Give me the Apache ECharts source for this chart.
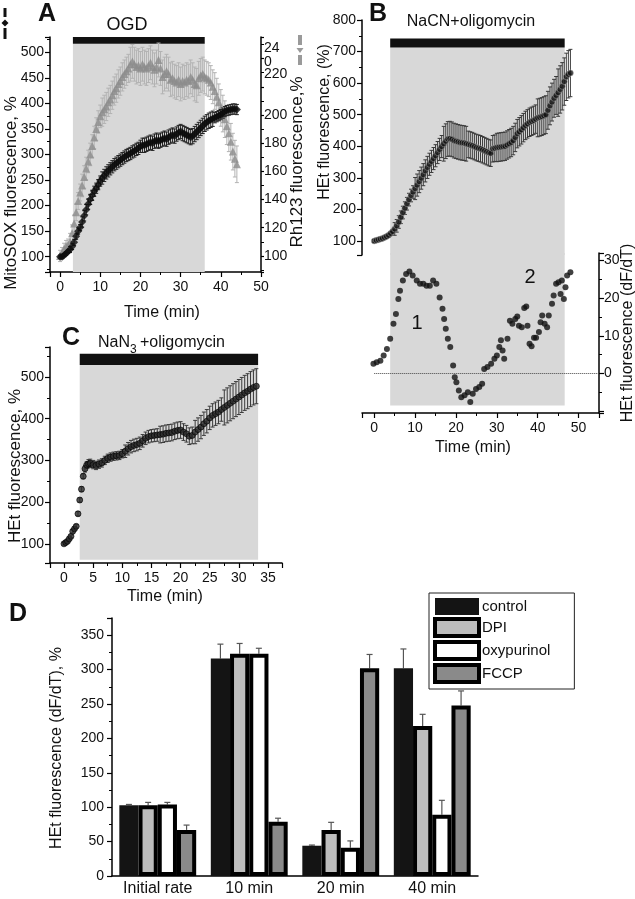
<!DOCTYPE html>
<html><head><meta charset="utf-8">
<script src="https://cdn.jsdelivr.net/npm/echarts@6/dist/echarts.min.js"></script>
<style>html,body{margin:0;padding:0;background:#fff}#c{width:635px;height:899px}</style>
</head><body><div id="c"></div>
<script>
// ---------- Panel A : OGD ----------
const tA = [0,0.5,1,1.5,2,2.5,3,3.5,4,4.5,5,5.5,6,6.5,7,7.5,8,8.5,9,9.5,10,10.5,11,11.5,12,12.5,13,13.5,14,14.5,15,15.5,16,16.5,17,17.5,18,18.5,19,19.5,20,20.5,21,21.5,22,22.5,23,23.5,24,24.5,25,25.5,26,26.5,27,27.5,28,28.5,29,29.5,30,30.5,31,31.5,32,32.5,33,33.5,34,34.5,35,35.5,36,36.5,37,37.5,38,38.5,39,39.5,40,40.5,41,41.5,42,42.5,43,43.5,44];
const mitoA = [100,100,103,106,110,114,120,128,140,150,157,168,180,192,203,212,220,228,234,241,248,254,259,264,268,272,276,280,283,286,289,292,295,298,300,302,305,307,310,312,316,318,318,320,322,324,322,326,328,326,328,330,332,330,334,336,338,336,340,343,345,342,340,338,336,334,336,340,344,348,352,356,360,363,366,368,370,372,374,376,378,381,384,386,387,388,389,389,388];
const errMitoA = [3,3,3,3,3,6,6,6,6,6,6,10,10,10,10,10,10,10,10,10,10,12,12,12,12,12,12,12,12,12,12,12,12,12,12,12,12,12,12,12,12,14,14,14,14,14,14,14,14,14,14,14,14,14,14,14,14,14,14,14,14,15,15,15,15,15,15,15,15,15,15,15,15,15,15,15,15,10,10,10,10,10,10,10,10,10,10,10,10];
const rhA = [100,102,105,107,108,110,116,123,131,139,145,150,156,162,167,172,178,184,190,195,199,202,204,206,209,211,214,217,219,222,224,227,229,231,233,236,238,236,234,235,233,236,234,233,235,237,234,232,234,239,233,227,229,231,229,225,226,224,223,225,222,224,223,225,224,227,225,222,221,226,228,229,227,226,225,223,220,217,213,209,205,201,197,192,187,181,174,169,165];
const errRhA = [4,4,4,4,4,6,6,6,6,6,6,8,8,8,8,8,8,8,8,8,8,10,10,10,10,10,10,10,10,10,10,10,10,10,10,12,12,12,12,12,12,12,12,12,12,12,12,12,12,12,12,12,12,12,12,12,12,12,12,12,12,12,12,12,12,12,12,12,12,12,12,12,12,12,12,12,12,13,13,13,13,13,13,13,13,13,13,13,13];
const treatA = [3.2, 36];

// ---------- Panel B : NaCN + oligomycin ----------
const tB = [0,0.5,1,1.5,2,2.5,3,3.5,4,4.5,5,5.5,6,6.5,7,7.5,8,8.5,9,9.5,10,10.5,11,11.5,12,12.5,13,13.5,14,14.5,15,15.5,16,16.5,17,17.5,18,18.5,19,19.5,20,20.5,21,21.5,22,22.5,23,23.5,24,24.5,25,25.5,26,26.5,27,27.5,28,28.5,29,29.5,30,30.5,31,31.5,32,32.5,33,33.5,34,34.5,35,35.5,36,36.5,37,37.5,38,38.5,39,39.5,40,40.5,41,41.5,42,42.5,43,43.5,44,44.5,45,45.5,46,46.5,47,47.5,48];
const hetB = [100,102,104,106,108,111,114,118,124,130,138,148,160,175,190,204,218,231,244,255,266,277,288,299,310,322,333,343,352,361,370,380,390,399,408,416,423,424,422,418,416,414,412,411,410,408,406,404,402,399,396,394,392,389,386,383,380,378,392,394,396,397,398,399,400,404,408,412,418,428,440,446,452,459,466,471,476,479,482,486,490,492,494,497,500,514,528,540,552,561,570,580,590,605,620,628,632];
const errB = [5,5,5,5,5,5,5,5,5,5,20,20,20,20,20,20,20,20,20,20,35,35,35,35,35,35,35,35,35,35,35,35,35,35,55,55,55,55,55,55,55,55,55,55,55,55,42,42,42,42,42,42,42,42,42,42,42,42,42,42,45,45,45,45,45,45,45,45,45,45,45,45,45,45,45,45,45,45,45,45,60,60,60,60,60,60,60,60,60,60,75,75,75,75,75,75,75];
const tBd = [-0.2,0.6,1.5,2.3,3.1,3.9,4.7,5.3,5.9,6.3,7.0,7.8,8.6,9.4,10.4,11.2,12.0,12.8,13.6,14.4,15.2,16.0,16.7,17.1,17.5,18.0,18.6,19.3,19.7,20.1,20.7,21.3,22.1,22.9,23.5,24.1,24.9,25.7,26.4,26.9,27.7,28.6,29.4,30.0,30.6,31.0,31.4,31.8,32.6,33.2,33.8,34.5,35.0,35.4,36.1,36.7,37.2,37.5,38.0,38.5,39.1,39.6,40.3,40.7,41.1,41.7,42.3,42.7,43.5,43.9,44.5,45.1,45.6,45.9,46.4,46.8,47.2,48.0];
const rateB = [2.6,3.0,3.4,4.8,6.5,9.2,13.2,15.8,19.8,22,24.7,26.4,27.1,26,24.7,23.8,23.8,23.3,23.3,24.7,23.8,20.2,17.2,14.5,11.9,9.2,7,2.1,-1,-2.3,-4.5,-6.3,-5.8,-5,-7.6,-5.4,-4.1,-3.6,-2.7,1.2,1.7,2.6,3.9,4.8,7,8.8,6.1,3.9,9.2,14,13.2,14.5,15.1,12.7,12.3,17.4,17.8,12.7,7.9,7.2,9.5,9.5,11,13.6,15.4,13.2,12.3,15.4,18.5,20.7,23.8,24.2,21.1,24.7,19.8,22.9,26,26.9];
const treatB = [3.9, 46.6];

// ---------- Panel C : NaN3 + oligomycin ----------
const tC = [0,0.3,0.6,0.9,1.2,1.5,1.8,2.1,2.4,2.7,3.0,3.3,3.6,3.9,4.2,4.5,5,5.5,6,6.5,7,7.5,8,8.5,9,9.5,10,10.5,11,11.5,12,12.5,13,13.5,14,14.5,15,15.5,16,16.5,17,17.5,18,18.5,19,19.5,20,20.5,21,21.5,22,22.5,23,23.5,24,24.5,25,25.5,26,26.5,27,27.5,28,28.5,29,29.5,30,30.5,31,31.5,32,32.5,33];
const hetC = [100,103,106,112,118,130,136,142,172,205,231,262,280,289,292,293,290,288,291,294,300,305,308,310,311,312,316,322,328,333,336,338,341,347,353,357,359,360,361,362,363,365,366,367,370,372,373,368,364,358,360,368,374,380,388,394,402,408,412,416,422,427,432,437,442,447,452,457,462,466,471,475,478];
const errC = [3,3,3,3,3,4,4,4,5,5,6,6,8,8,10,10,10,10,10,10,10,10,10,10,10,10,10,15,15,15,15,15,15,15,15,15,15,15,15,20,20,20,20,20,20,20,20,20,20,20,20,28,28,28,28,28,28,28,28,28,28,42,42,42,42,42,42,42,42,42,42,42,42];
const treatC = [2.7, 33.3];

// ---------- Panel D : bars ----------
const catD = ['Initial rate','10 min','20 min','40 min'];
const controlD = [103, 316, 44, 302];
const dpiD = [103, 323, 67, 218];
const oxyD = [104, 323, 41, 89];
const fccpD = [67, 79, 302, 248];
const errControlD = [1, 21, 1, 28];
const errDpiD = [4, 15, 11, 17];
const errOxyD = [3, 8, 10, 21];
const errFccpD = [7, 5, 20, 21];

const FONT = '"Liberation Sans", Arial, sans-serif';
const chart = echarts.init(document.getElementById('c'), null, {renderer:'canvas'});

function multipleOf(step, lo, hi){
  return function(v){
    const r = Math.abs(v / step - Math.round(v / step));
    if (r > 1e-6) return '';
    if (lo !== undefined && (v < lo - 1e-6 || v > hi + 1e-6)) return '';
    return String(Math.round(v));
  };
}
function axis(extra){
  const base = {
    type:'value',
    axisLine:{show:true,onZero:false,lineStyle:{color:'#000',width:1.5}},
    axisTick:{show:true,inside:false,length:5,lineStyle:{color:'#000',width:1.2}},
    minorTick:{show:true,splitNumber:2,length:3,lineStyle:{color:'#000',width:1}},
    splitLine:{show:false}, minorSplitLine:{show:false},
    axisLabel:{color:'#111',fontSize:14,fontFamily:FONT,margin:6}
  };
  const o = Object.assign({}, base, extra);
  if (extra.axisLabel) o.axisLabel = Object.assign({}, base.axisLabel, extra.axisLabel);
  if (extra.axisTick) o.axisTick = Object.assign({}, base.axisTick, extra.axisTick);
  return o;
}
function vErr(upOnly, cap){
  return function(params, api){
    const x = api.value(0), y = api.value(1), e = api.value(2);
    const hi = api.coord([x, y + e]);
    const lo = api.coord([x, upOnly ? y : y - e]);
    const st = {stroke: api.visual('color'), lineWidth: 1, fill: null};
    const ch = [
      {type:'line', shape:{x1:hi[0],y1:hi[1],x2:lo[0],y2:lo[1]}, style:st},
      {type:'line', shape:{x1:hi[0]-cap,y1:hi[1],x2:hi[0]+cap,y2:hi[1]}, style:st}
    ];
    if (!upOnly) ch.push({type:'line', shape:{x1:lo[0]-cap,y1:lo[1],x2:lo[0]+cap,y2:lo[1]}, style:st});
    return {type:'group', children:ch};
  };
}
function barErr(k){
  return function(params, api){
    const ci = api.value(0), v = api.value(1), e = api.value(2);
    const base = api.coord([ci, v]);
    const band = api.size([1, 0])[0];
    const bw = band * (1 - 0.16) / 4;
    const x = base[0] + (k - 1.5) * bw;
    const top = api.coord([ci, v + e])[1];
    const st = {stroke:'#555', lineWidth:1.2, fill:null};
    return {type:'group', children:[
      {type:'line', shape:{x1:x,y1:base[1],x2:x,y2:top}, style:st},
      {type:'line', shape:{x1:x-3,y1:top,x2:x+3,y2:top}, style:st}
    ]};
  };
}
const zip3 = (a,b,c) => a.map((t,i)=>[t,b[i],c[i]]);
const zip2 = (a,b) => a.map((t,i)=>[t,b[i]]);
const SHADE = '#d8d8d8', BAR = '#111';

function txt(text, x, y, size, opt){
  opt = opt || {};
  return {type:'text', x:x, y:y, rotation: opt.rot ? Math.PI/2 : 0, z:100,
    style:{text:text, fill:'#111', font:(opt.bold?'bold ':'') + size + 'px ' + FONT,
      align: opt.align || 'center', verticalAlign:'middle'}};
}

const option = {
  animation:false,
  backgroundColor:'#fff',
  grid:[
    {left:50, top:37, width:211, height:235},
    {left:362, top:20, width:237, height:235},
    {left:362, top:253, width:237, height:160},
    {left:50, top:347, width:232, height:216},
    {left:112, top:618, width:366, height:258}
  ],
  xAxis:[
    axis({gridIndex:0, min:-2.5, max:50, splitNumber:5, axisLabel:{formatter:multipleOf(10), margin:8}}),
    axis({gridIndex:1, min:-3, max:55, show:false}),
    axis({gridIndex:2, min:-3, max:55, splitNumber:5, axisLabel:{formatter:multipleOf(10), margin:8}}),
    axis({gridIndex:3, min:-2.4, max:37.4, splitNumber:8, axisLabel:{formatter:multipleOf(5), margin:8}}),
    {type:'category', gridIndex:4, data:catD,
      axisLine:{show:true,lineStyle:{color:'#000',width:1.5}}, axisTick:{show:false},
      axisLabel:{color:'#111',fontSize:16,fontFamily:FONT,margin:5}}
  ],
  yAxis:[
    axis({gridIndex:0, min:70, max:530, splitNumber:9, axisLabel:{formatter:multipleOf(50)}}),
    axis({gridIndex:0, position:'right', min:88.6, max:255.3, splitNumber:8,
      axisTick:{length:3}, axisLabel:{formatter:multipleOf(20,100,200), margin:3}}),
    axis({gridIndex:1, min:55.5, max:800, splitNumber:8, axisLabel:{formatter:multipleOf(100)}}),
    axis({gridIndex:2, position:'right', min:-10.5, max:32, splitNumber:4,
      axisLabel:{formatter:multipleOf(10,0,30), margin:5}}),
    axis({gridIndex:3, min:54, max:572, splitNumber:5, axisLabel:{formatter:multipleOf(100)}}),
    axis({gridIndex:4, min:0, max:375, interval:50, axisLabel:{formatter:multipleOf(50,0,350), margin:8}})
  ],
  legend:{
    left:429, top:593, orient:'vertical', itemWidth:44, itemHeight:17, itemGap:2,
    padding:[5,24,5,4], borderColor:'#222', borderWidth:1, icon:'rect',
    textStyle:{color:'#111', fontSize:15, fontFamily:FONT, padding:[0,0,0,-2]},
    data:[
      {name:'control', itemStyle:{color:'#141414', borderColor:'#000', borderWidth:0}},
      {name:'DPI', itemStyle:{color:'#bdbdbd', borderColor:'#000', borderWidth:4}},
      {name:'oxypurinol', itemStyle:{color:'#fff', borderColor:'#000', borderWidth:4}},
      {name:'FCCP', itemStyle:{color:'#8a8a8a', borderColor:'#000', borderWidth:4}}
    ]
  },
  series:[
    // ----- A -----
    {type:'custom', name:'errRh', xAxisIndex:0, yAxisIndex:1, z:2,
      itemStyle:{color:'#b3b3b3'}, renderItem:vErr(false,2), data:zip3(tA,rhA,errRhA)},
    {type:'scatter', name:'Rh123', xAxisIndex:0, yAxisIndex:1, z:3, symbol:'triangle', symbolSize:8,
      itemStyle:{color:'#8c8c8c'}, data:zip2(tA,rhA)},
    {type:'custom', name:'errMito', xAxisIndex:0, yAxisIndex:0, z:4,
      itemStyle:{color:'#222'}, renderItem:vErr(false,2), data:zip3(tA,mitoA,errMitoA)},
    {type:'scatter', name:'MitoSOX', xAxisIndex:0, yAxisIndex:0, z:5, symbol:'diamond', symbolSize:8,
      itemStyle:{color:'#0d0d0d'}, data:zip2(tA,mitoA),
      markArea:{silent:true, data:[
        [{xAxis:treatA[0], yAxis:70, itemStyle:{color:SHADE}}, {xAxis:treatA[1], yAxis:517}],
        [{xAxis:treatA[0], yAxis:517, itemStyle:{color:BAR}}, {xAxis:treatA[1], yAxis:530}]
      ]}},
    // ----- B top -----
    {type:'custom', name:'errB', xAxisIndex:1, yAxisIndex:2, z:2,
      itemStyle:{color:'#3a3a3a'}, renderItem:vErr(false,2), data:zip3(tB,hetB,errB)},
    {type:'scatter', name:'HEtB', xAxisIndex:1, yAxisIndex:2, z:3, symbol:'circle', symbolSize:6,
      itemStyle:{color:'#111', borderColor:'#aaa', borderWidth:0.6}, data:zip2(tB,hetB),
      markArea:{silent:true, data:[
        [{xAxis:treatB[0], yAxis:55.5, itemStyle:{color:SHADE}}, {xAxis:treatB[1], yAxis:713}],
        [{xAxis:treatB[0], yAxis:713, itemStyle:{color:BAR}}, {xAxis:treatB[1], yAxis:741}]
      ]}},
    // ----- B bottom -----
    {type:'scatter', name:'rateB', xAxisIndex:2, yAxisIndex:3, z:3, symbol:'circle', symbolSize:6,
      itemStyle:{color:'#111'}, data:zip2(tBd,rateB),
      markArea:{silent:true, data:[
        [{xAxis:treatB[0], yAxis:-8.5, itemStyle:{color:SHADE}}, {xAxis:treatB[1], yAxis:32}]
      ]},
      markLine:{silent:true, symbol:'none', label:{show:false},
        lineStyle:{color:'#444', type:'dotted', width:1},
        data:[[{coord:[0,0]},{coord:[55,0]}]]}},
    // ----- C -----
    {type:'custom', name:'errC', xAxisIndex:3, yAxisIndex:4, z:2,
      itemStyle:{color:'#3a3a3a'}, renderItem:vErr(false,2), data:zip3(tC,hetC,errC)},
    {type:'scatter', name:'HEtC', xAxisIndex:3, yAxisIndex:4, z:3, symbol:'circle', symbolSize:6,
      itemStyle:{color:'#2b2b2b', borderColor:'#000', borderWidth:0.8}, data:zip2(tC,hetC),
      markArea:{silent:true, data:[
        [{xAxis:treatC[0], yAxis:62, itemStyle:{color:SHADE}}, {xAxis:treatC[1], yAxis:529}],
        [{xAxis:treatC[0], yAxis:529, itemStyle:{color:BAR}}, {xAxis:treatC[1], yAxis:556}]
      ]}},
    // ----- D -----
    {type:'bar', name:'control', xAxisIndex:4, yAxisIndex:5, data:controlD, barGap:'0%', barCategoryGap:'16%',
      itemStyle:{color:'#141414', borderColor:'#000', borderWidth:0}},
    {type:'bar', name:'DPI', xAxisIndex:4, yAxisIndex:5, data:dpiD, barGap:'0%', barCategoryGap:'16%',
      itemStyle:{color:'#bdbdbd', borderColor:'#000', borderWidth:4}},
    {type:'bar', name:'oxypurinol', xAxisIndex:4, yAxisIndex:5, data:oxyD, barGap:'0%', barCategoryGap:'16%',
      itemStyle:{color:'#fff', borderColor:'#000', borderWidth:4}},
    {type:'bar', name:'FCCP', xAxisIndex:4, yAxisIndex:5, data:fccpD, barGap:'0%', barCategoryGap:'16%',
      itemStyle:{color:'#8a8a8a', borderColor:'#000', borderWidth:4}},
    {type:'custom', name:'e0', xAxisIndex:4, yAxisIndex:5, z:1, renderItem:barErr(0), data:controlD.map((v,i)=>[i,v,errControlD[i]])},
    {type:'custom', name:'e1', xAxisIndex:4, yAxisIndex:5, z:1, renderItem:barErr(1), data:dpiD.map((v,i)=>[i,v,errDpiD[i]])},
    {type:'custom', name:'e2', xAxisIndex:4, yAxisIndex:5, z:1, renderItem:barErr(2), data:oxyD.map((v,i)=>[i,v,errOxyD[i]])},
    {type:'custom', name:'e3', xAxisIndex:4, yAxisIndex:5, z:1, renderItem:barErr(3), data:fccpD.map((v,i)=>[i,v,errFccpD[i]])}
  ],
  graphic:[
    // Panel A texts
    txt('A', 47, 14, 25, {bold:true}),
    txt('OGD', 127, 25, 18),
    txt('MitoSOX fluorescence, %', 11, 193, 17, {rot:true}),
    txt('Rh123 fluorescence,%', 297, 162, 17, {rot:true}),
    txt('24', 264, 48, 14, {align:'left'}),
    txt('0', 264, 62, 14, {align:'left'}),
    txt('220', 264, 74, 14, {align:'left'}),
    txt('Time (min)', 162, 313, 16),
    // legend glyphs of A
    {type:'rect', shape:{x:3.5,y:8,width:3,height:9}, style:{fill:'#111'}},
    {type:'polygon', shape:{points:[[5,19.5],[8.5,23],[5,26.5],[1.5,23]]}, style:{fill:'#111'}},
    {type:'rect', shape:{x:3.5,y:28,width:3,height:11}, style:{fill:'#111'}},
    {type:'rect', shape:{x:298,y:35,width:4,height:10}, style:{fill:'#9a9a9a'}},
    {type:'polygon', shape:{points:[[296.5,48],[303.5,48],[300,53]]}, style:{fill:'#9a9a9a'}},
    {type:'rect', shape:{x:298,y:55,width:4,height:10}, style:{fill:'#9a9a9a'}},
    // Panel B texts
    txt('B', 378, 14, 25, {bold:true}),
    txt('NaCN+oligomycin', 471, 22, 16),
    txt('HEt fluorescence, (%)', 325, 122, 16, {rot:true}),
    txt('HEt fluorescence (dF/dT)', 628, 333, 16, {rot:true}),
    txt('1', 417, 323, 20),
    txt('2', 530, 277, 20),
    txt('Time (min)', 473, 448, 16),
    // Panel C texts
    txt('C', 71, 338, 25, {bold:true}),
    txt('NaN', 98, 343, 16, {align:'left'}),
    txt('3', 130, 350, 12, {align:'left'}),
    txt('+oligomycin', 140, 343, 16, {align:'left'}),
    txt('HEt fluorescence, %', 15, 466, 17, {rot:true}),
    txt('Time (min)', 165, 597, 16),
    // Panel D texts
    txt('D', 18, 614, 25, {bold:true}),
    txt('HEt fluorescence (dF/dT), %', 57, 748, 16, {rot:true})
  ]
};
chart.setOption(option);
</script>
</body></html>
